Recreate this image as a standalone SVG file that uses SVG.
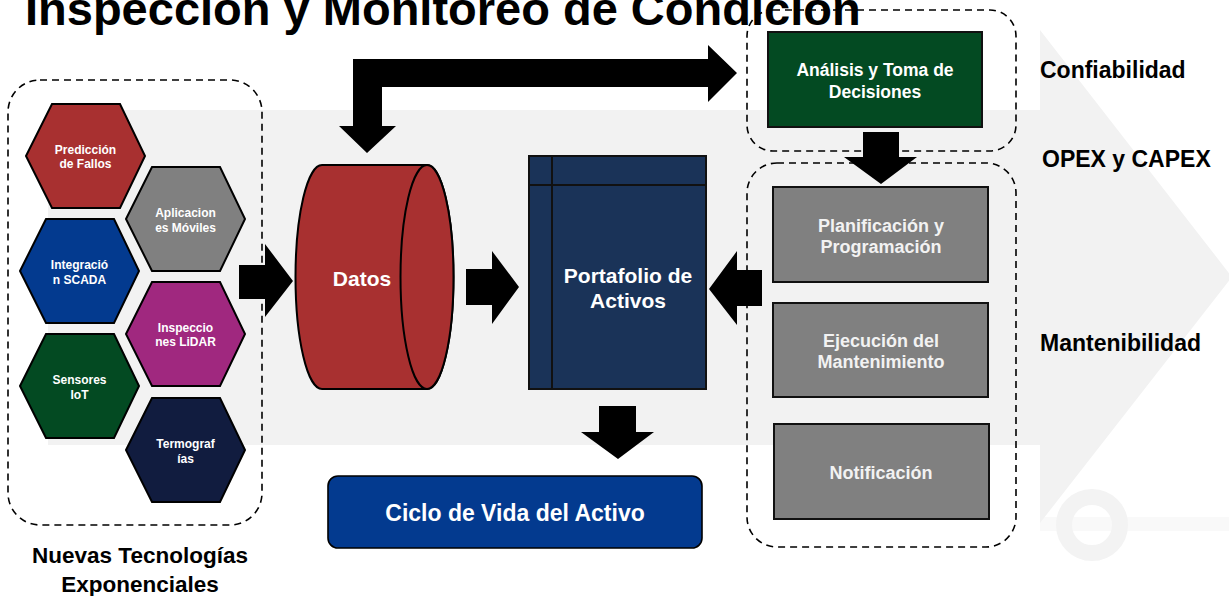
<svg xmlns="http://www.w3.org/2000/svg" width="1229" height="596" viewBox="0 0 1229 596">
<style>
text{font-family:"Liberation Sans",Arial,sans-serif;font-weight:bold}
.hex{stroke:#000;stroke-width:2}
.ht{fill:#fff;font-size:12px;text-anchor:middle}
.dash{fill:none;stroke:#000;stroke-width:1.6;stroke-dasharray:7 5}
.box{stroke:#111;stroke-width:2}
.gt{fill:#f2f2f2;font-size:18px;text-anchor:middle}
.wt{fill:#fff;text-anchor:middle}
.lbl{fill:#000;font-size:23px}
.arr{fill:#000}
</style>
<rect width="1229" height="596" fill="#fff"/>
<g id="background">
<rect x="1040" y="517" width="189" height="14" fill="#f9f9f9"/>
<circle cx="1092" cy="525" r="28" fill="none" stroke="#f3f3f3" stroke-width="16"/>
<polygon points="48,110 1040,110 1040,30 1232,277 1040,523 1040,445 48,445" fill="#f2f2f2"/>
</g>
<text x="25" y="25" font-size="47" fill="#000">Inspección y Monitoreo de Condición</text>
<g id="group-tecnologias">
<rect class="dash" x="8" y="80" width="254" height="445" rx="32"/>
<text x="140" y="563" text-anchor="middle" font-size="22.5">Nuevas Tecnologías</text>
<text x="140" y="592" text-anchor="middle" font-size="22.5">Exponenciales</text>
</g>
<g id="hex-prediccion">
<polygon class="hex" fill="#a83030" points="26,156 52,104 120,104 145,156 120,208 52,208"/>
<text class="ht" x="85.5" y="154">Predicción</text><text class="ht" x="85.5" y="168">de Fallos</text>
</g>
<g id="hex-aplicaciones">
<polygon class="hex" fill="#808080" points="126,219 152,167 220,167 245,219 220,271 152,271"/>
<text class="ht" x="185.5" y="217">Aplicacion</text><text class="ht" x="185.5" y="231.5">es Móviles</text>
</g>
<g id="hex-scada">
<polygon class="hex" fill="#033a8f" points="20,271 46,219 114,219 139,271 114,323 46,323"/>
<text class="ht" x="79.5" y="269">Integració</text><text class="ht" x="79.5" y="283.5">n SCADA</text>
</g>
<g id="hex-lidar">
<polygon class="hex" fill="#a0287f" points="126,334 152,282 220,282 245,334 220,386 152,386"/>
<text class="ht" x="185.5" y="332">Inspeccio</text><text class="ht" x="185.5" y="346">nes LiDAR</text>
</g>
<g id="hex-iot">
<polygon class="hex" fill="#034a22" points="20,386 46,334 114,334 139,386 114,438 46,438"/>
<text class="ht" x="79.5" y="384">Sensores</text><text class="ht" x="79.5" y="398.5">IoT</text>
</g>
<g id="hex-termografias">
<polygon class="hex" fill="#111c3f" points="126,450 152,398 220,398 245,450 220,502 152,502"/>
<text class="ht" x="185.5" y="448">Termograf</text><text class="ht" x="185.5" y="462.5">ías</text>
</g>
<g id="datos">
<path d="M322,165 L427,165 A26.5,112 0 0 1 427,389 L322,389 A26.5,112 0 0 1 322,165 Z" fill="#a83030" stroke="#000" stroke-width="2"/>
<ellipse cx="427" cy="277" rx="26.5" ry="112" fill="#a83030" stroke="#000" stroke-width="2"/>
<text class="wt" x="362" y="285.5" font-size="21">Datos</text>
</g>
<g id="portafolio">
<rect x="529" y="156" width="177" height="233" fill="#1a3358" stroke="#111" stroke-width="2"/>
<line x1="552" y1="156" x2="552" y2="389" stroke="#111" stroke-width="2"/>
<line x1="529" y1="185" x2="706" y2="185" stroke="#111" stroke-width="2"/>
<text class="wt" x="628" y="283" font-size="21">Portafolio de</text>
<text class="wt" x="628" y="308" font-size="21">Activos</text>
</g>
<g id="ciclo">
<rect x="328" y="476" width="374" height="72" rx="10" fill="#033a8f" stroke="#000" stroke-width="1.6"/>
<text class="wt" x="515" y="521" font-size="23">Ciclo de Vida del Activo</text>
</g>
<g id="group-confiabilidad">
<rect class="dash" x="747" y="10" width="269" height="141" rx="26"/>
</g>
<g id="analisis">
<rect class="box" x="768" y="32" width="214" height="95" fill="#034a22" stroke="#000"/>
<text class="wt" x="875" y="76" font-size="17.5">Análisis y Toma de</text>
<text class="wt" x="875" y="98" font-size="17.5">Decisiones</text>
</g>
<g id="group-mantenibilidad">
<rect class="dash" x="747" y="163" width="269" height="384" rx="30"/>
</g>
<g id="planificacion">
<rect class="box" x="773" y="187" width="215" height="95" fill="#808080"/>
<text class="gt" x="881" y="232">Planificación y</text>
<text class="gt" x="881" y="253">Programación</text>
</g>
<g id="ejecucion">
<rect class="box" x="773" y="303" width="215" height="94" fill="#808080"/>
<text class="gt" x="881" y="347">Ejecución del</text>
<text class="gt" x="881" y="368">Mantenimiento</text>
</g>
<g id="notificacion">
<rect class="box" x="774" y="424" width="215" height="95" fill="#808080"/>
<text class="gt" x="881" y="479">Notificación</text>
</g>
<g id="labels">
<text class="lbl" x="1040" y="78">Confiabilidad</text>
<text class="lbl" x="1042" y="167" font-size="22">OPEX y CAPEX</text>
<text class="lbl" x="1040" y="351">Mantenibilidad</text>
</g>
<g id="connectors">
<polygon class="arr" points="353,59 708,59 708,45 737,73 708,102 708,87 382,87 382,126 396,126 367,153 339,126 353,126"/>
<polygon class="arr" points="239,265 265,265 265,244 293,281 265,317 265,299 239,299"/>
<polygon class="arr" points="466,269 492,269 492,251 519,287 492,324 492,305 466,305"/>
<polygon class="arr" points="762,270 737,270 737,251 709,289 737,325 737,306 762,306"/>
<polygon class="arr" points="599,406 636,406 636,432 654,432 618,459 581,432 599,432"/>
<polygon class="arr" points="863,132 899,132 899,157 917,157 881,184 844,157 863,157"/>
</g>
</svg>
